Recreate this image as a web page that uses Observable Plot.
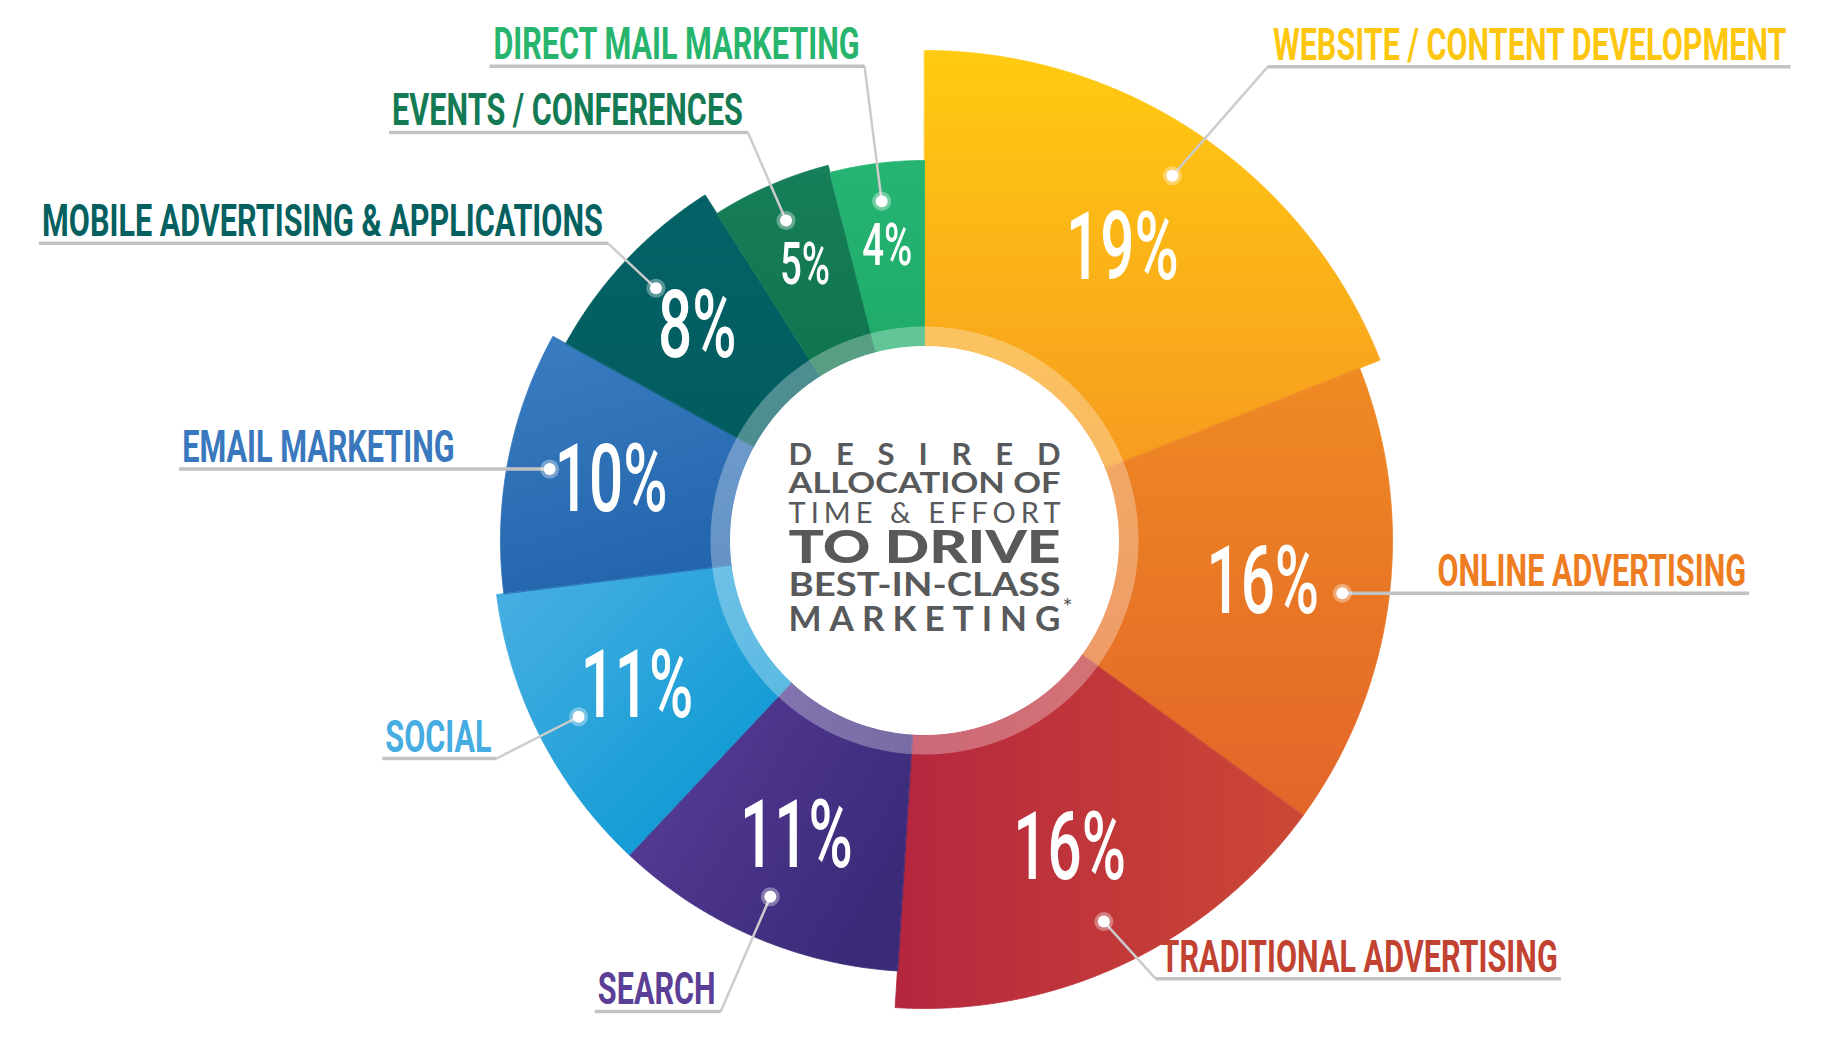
<!DOCTYPE html>
<html><head><meta charset="utf-8">
<script src="https://cdn.jsdelivr.net/npm/d3@7"></script>
<script src="https://cdn.jsdelivr.net/npm/@observablehq/plot@0.6"></script>
<style>html,body{margin:0;padding:0;background:#fff;}svg{display:block;}</style>
</head><body><div id="chart"></div>
<script>
// ---------- data ----------
const categories = [
  "WEBSITE / CONTENT DEVELOPMENT", "ONLINE ADVERTISING", "TRADITIONAL ADVERTISING",
  "SEARCH", "SOCIAL", "EMAIL MARKETING", "MOBILE ADVERTISING & APPLICATIONS",
  "EVENTS / CONFERENCES", "DIRECT MAIL MARKETING"
];
const values = [19, 16, 16, 11, 11, 10, 8, 5, 4];
const valueLabels = ["19%", "16%", "16%", "11%", "11%", "10%", "8%", "5%", "4%"];
const centerLines = ["DESIRED", "ALLOCATION OF", "TIME & EFFORT", "TO DRIVE", "BEST-IN-CLASS", "MARKETING"];
const centerNote = "*";

// ---------- styles / layout ----------
const labelColors = ["#FDC70F", "#EE7D22", "#C24232", "#5B3F97", "#45ADE1", "#3A78BE", "#05615F", "#147A53", "#27B46C"];
const gradientStops = [
  ["#FFCB10", "#F79B20"], ["#EF8A22", "#E2652A"], ["#B5263F", "#CC4835"],
  ["#5B3E9B", "#3A2A78"], ["#4BB0E3", "#0095D0"], ["#3B7DC2", "#2366AD"],
  ["#046266", "#015C5F"], ["#167E58", "#0F754F"], ["#26B473", "#1FAC69"]
];
const gradientVectors = [[0,0,0,1],[0,0,0,1],[0,0,1,0],[0,0,1,0.6],[0,0,1,1],[0,0,0.3,1],[0,0,0,1],[0,0,0,1],[0,0,0,1]];
const leaderLengths = [145, 0, 77, 125, 92, 0, 66, 96, 136];
const leaderTilts = [7, 0, -17, 0, 0, 0, 0, 0, 0]; // degrees
const centerLayout = [
  {baseline: -76, size: 31, weight: 700, adjust: "spacing"},
  {baseline: -47.5, size: 29, weight: 700, adjust: "spacingAndGlyphs"},
  {baseline: -17.5, size: 29, weight: 400, adjust: "spacing"},
  {baseline: 22.5, size: 46, weight: 900, adjust: "spacingAndGlyphs"},
  {baseline: 55, size: 32, weight: 700, adjust: "spacingAndGlyphs"},
  {baseline: 90, size: 35, weight: 700, adjust: "spacing"}
];
const centerWidth = 272;
const W = 1827, H = 1044, CX = 924, CY = 540;
const ringInner = 195, ringOuter = 214;
const rOuter = d3.scaleLinear().domain([4, 19]).range([380, 490]);
const catFont = "Roboto, 'Liberation Sans', sans-serif";
const catSize = 45, catCondense = 0.68;
const pctCondense = 0.64;

const ctx = document.createElement("canvas").getContext("2d");
function measure(text, font) { ctx.font = font; return ctx.measureText(text).width; }

const total = d3.sum(values);
let acc = 0;
const rows = values.map((v, i) => {
  const a0 = acc / total * 2 * Math.PI; acc += v;
  const a1 = acc / total * 2 * Math.PI;
  const am = (a0 + a1) / 2;
  const ro = rOuter(v);
  const poly = [];
  const n = Math.max(8, Math.ceil((a1 - a0) / 0.005));
  for (let k = 0; k <= n; k++) { const a = a0 + (a1 - a0) * k / n; poly.push({x: ro * Math.sin(a), y: ro * Math.cos(a)}); }
  for (let k = n; k >= 0; k--) { const a = a0 + (a1 - a0) * k / n; poly.push({x: ringInner * Math.sin(a), y: ringInner * Math.cos(a)}); }
  const rl = (ringOuter + ro) / 2;
  const rd = ro * 0.9;
  const dotX = rd * Math.sin(am), dotY = rd * Math.cos(am);
  const L = leaderLengths[i];
  const h = am + leaderTilts[i] * Math.PI / 180;
  const elbowX = dotX + L * Math.sin(h), elbowY = dotY + L * Math.cos(h);
  const right = am < Math.PI;
  const gap = L === 0 ? 95 : 5;
  const w = measure(categories[i], `700 ${catSize}px Roboto`) * catCondense;
  const tx = right ? elbowX + gap : elbowX - gap;
  const endX = right ? tx + w + 3 : tx - w - 3;
  return {i, v, cat: categories[i], pct: valueLabels[i], poly, lx: rl * Math.sin(am), ly: rl * Math.cos(am),
    pfs: v >= 8 ? 94 : 60, dotX, dotY, elbowX, elbowY, L, right, tx, ty: elbowY + 7, endX, color: labelColors[i]};
});
const ringR = (ringInner + ringOuter) / 2;
const ring = d3.range(0, 361, 1).map(a => ({x: ringR * Math.sin(a * Math.PI / 180), y: ringR * Math.cos(a * Math.PI / 180)}));

const marks = [];
rows.forEach((d, i) => marks.push(Plot.line(d.poly, {x: "x", y: "y", curve: "linear-closed", fill: `url(#slice${i})`, stroke: `url(#slice${i})`, strokeWidth: 0.8})));
marks.push(Plot.line(ring, {x: "x", y: "y", curve: "linear-closed", fill: "none", stroke: "white", strokeOpacity: 0.3, strokeWidth: ringOuter - ringInner}));
marks.push(Plot.text(rows, {x: "lx", y: "ly", text: "pct", fill: "white", fontSize: d => d.pfs, fontFamily: "Roboto", fontWeight: 500, ariaDescription: "pct"}));
marks.push(Plot.link(rows.filter(d => d.L > 0), {x1: "dotX", y1: "dotY", x2: "elbowX", y2: "elbowY", stroke: "#CCCCCC", strokeWidth: 2.5}));
marks.push(Plot.link(rows, {x1: "elbowX", y1: "elbowY", x2: "endX", y2: "elbowY", stroke: "#C2C2C2", strokeWidth: 3.5}));
marks.push(Plot.dot(rows, {x: "dotX", y: "dotY", r: 9.5, fill: "white", fillOpacity: 0.35}));
marks.push(Plot.dot(rows, {x: "dotX", y: "dotY", r: 6, fill: "white"}));
const rightRows = rows.filter(d => d.right), leftRows = rows.filter(d => !d.right);
marks.push(Plot.text(rightRows, {x: "tx", y: "ty", text: "cat", fill: "color", textAnchor: "start", lineAnchor: "bottom", fontSize: catSize, fontFamily: catFont, fontWeight: 700, ariaDescription: "cat"}));
marks.push(Plot.text(leftRows, {x: "tx", y: "ty", text: "cat", fill: "color", textAnchor: "end", lineAnchor: "bottom", fontSize: catSize, fontFamily: catFont, fontWeight: 700, ariaDescription: "cat"}));
marks.push(Plot.text([centerLines.join("\n")], {x: () => 0, y: () => 0, text: d => d, fill: "#58595B", fontSize: 30, fontWeight: 700, textAnchor: "start", fontFamily: "Lato, 'Open Sans', sans-serif", ariaDescription: "center"}));

const svg = Plot.plot({
  width: W, height: H, margin: 0,
  x: {domain: [-CX, W - CX], range: [0, W], axis: null},
  y: {domain: [CY - H, CY], range: [H, 0], axis: null},
  color: {type: "identity"},
  style: {background: "white"},
  marks
});
document.getElementById("chart").append(svg);

const defs = d3.select(svg).insert("defs", ":first-child");
gradientStops.forEach((s, i) => {
  const v = gradientVectors[i];
  const g = defs.append("linearGradient").attr("id", `slice${i}`)
    .attr("x1", v[0]).attr("y1", v[1]).attr("x2", v[2]).attr("y2", v[3]);
  g.append("stop").attr("offset", 0).attr("stop-color", s[0]);
  g.append("stop").attr("offset", 1).attr("stop-color", s[1]);
});
function condense(selection, k) {
  selection.each(function() {
    const t = this.getAttribute("transform") || "";
    this.setAttribute("transform", `${t} scale(${k},1)`);
  });
}
condense(d3.select(svg).selectAll('g[aria-description="pct"] text'), pctCondense);
condense(d3.select(svg).selectAll('g[aria-description="cat"] text'), catCondense);

// center title: one text element, one tspan per line
const ct = d3.select(svg).select('g[aria-description="center"] text').node();
ct.removeAttribute("y");
const tspans = Array.from(ct.querySelectorAll("tspan"));
tspans.forEach((ts, k) => {
  const c = centerLayout[k];
  ts.removeAttribute("dy");
  ts.setAttribute("x", -centerWidth / 2);
  ts.setAttribute("y", c.baseline);
  ts.setAttribute("font-size", c.size);
  ts.setAttribute("font-weight", c.weight);
  ts.setAttribute("textLength", centerWidth);
  ts.setAttribute("lengthAdjust", c.adjust);
});
const note = document.createElementNS("http://www.w3.org/2000/svg", "tspan");
note.setAttribute("x", centerWidth / 2 + 2);
note.setAttribute("y", 74);
note.setAttribute("font-size", 24);
note.setAttribute("font-weight", 400);
note.textContent = centerNote;
ct.appendChild(note);
</script></body></html>
